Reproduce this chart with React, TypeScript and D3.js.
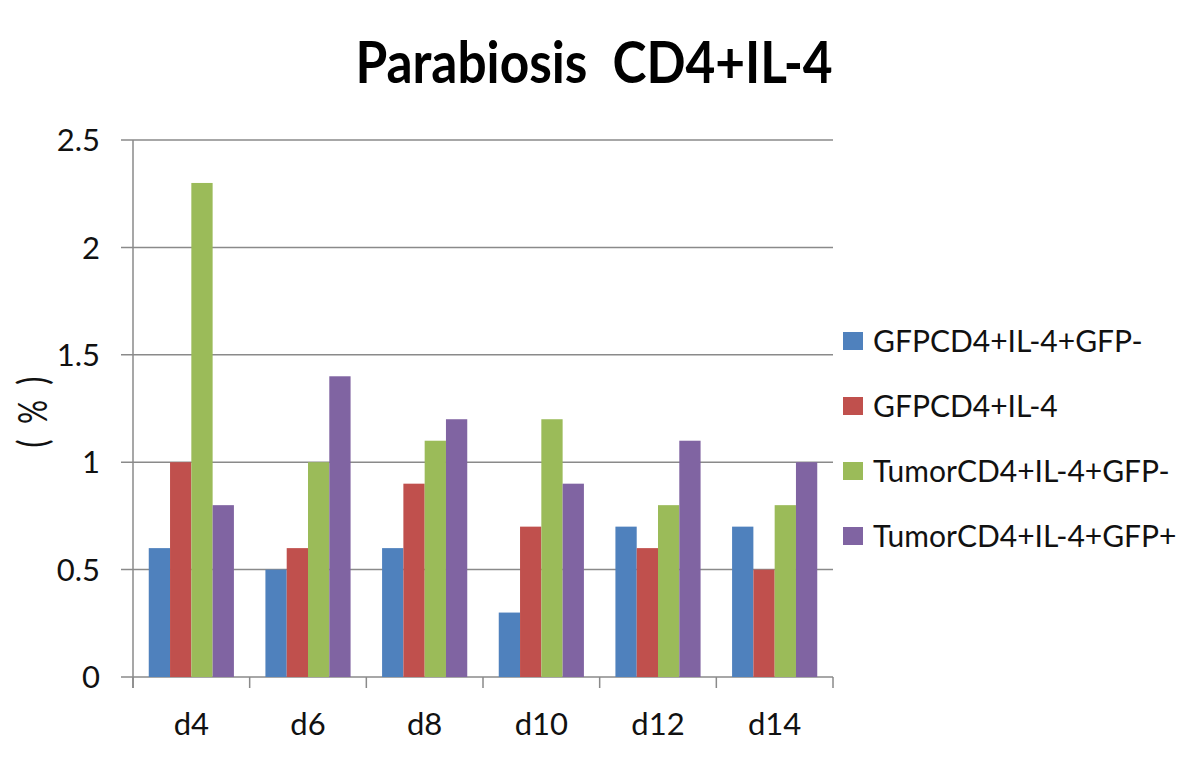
import React, { useEffect } from "react";
import * as d3 from "d3";

const categories = ["d4", "d6", "d8", "d10", "d12", "d14"];
const seriesNames = [
  "GFPCD4+IL-4+GFP-",
  "GFPCD4+IL-4",
  "TumorCD4+IL-4+GFP-",
  "TumorCD4+IL-4+GFP+",
];
const gfpMinus = [0.6, 0.5, 0.6, 0.3, 0.7, 0.7];
const gfpAll = [1.0, 0.6, 0.9, 0.7, 0.6, 0.5];
const tumorMinus = [2.3, 1.0, 1.1, 1.2, 0.8, 0.8];
const tumorPlus = [0.8, 1.4, 1.2, 0.9, 1.1, 1.0];
const yTicks = [0, 0.5, 1, 1.5, 2, 2.5];
const colors = ["#4F81BD", "#C0504D", "#9BBB59", "#8064A2"];

const FONT = "Lato, 'Open Sans', sans-serif";

const margin = { left: 133, right: 367, top: 140, bottom: 89 };
const W = 1200;
const H = 766;

const App: React.FC = () => {
  useEffect(() => {
    document.body.style.margin = "0";
  }, []);

  const values = [gfpMinus, gfpAll, tumorMinus, tumorPlus];
  const plotW = W - margin.left - margin.right;
  const y0 = H - margin.bottom;

  const x0 = d3
    .scaleBand<string>()
    .domain(categories)
    .range([margin.left, margin.left + plotW])
    .paddingInner(0.27)
    .paddingOuter(0.135);
  const x1 = d3
    .scaleBand<string>()
    .domain(seriesNames)
    .range([0, x0.bandwidth()]);
  const y = d3.scaleLinear().domain([0, 2.5]).range([y0, margin.top]);

  const step = plotW / categories.length;
  const catEdges = d3.range(categories.length + 1).map((i) => margin.left + i * step);

  return (
    <svg width={W} height={H} style={{ display: "block", background: "#fff" }}>
      {/* title is a bit taller than wide in the original, so stretch it */}
      <text
        transform="translate(594, 83) scale(0.97, 1.08)"
        textAnchor="middle"
        fontFamily={FONT}
        fontWeight="bold"
        fontSize={53}
        fill="#000"
        style={{ whiteSpace: "pre" }}
      >
        Parabiosis  CD4+IL-4
      </text>

      {yTicks.map((t) => (
        <g key={t}>
          <line
            x1={margin.left - 12}
            x2={margin.left + plotW}
            y1={y(t)}
            y2={y(t)}
            stroke="#8a8a8a"
            strokeWidth={1.5}
          />
          <text
            x={100}
            y={y(t)}
            dy="0.36em"
            textAnchor="end"
            fontFamily={FONT}
            fontSize={31}
            fill="#111"
          >
            {t}
          </text>
        </g>
      ))}

      {values.map((vals, si) =>
        vals.map((v, ci) => (
          <rect
            key={`${si}-${ci}`}
            x={(x0(categories[ci]) as number) + (x1(seriesNames[si]) as number)}
            y={y(v)}
            width={x1.bandwidth()}
            height={y0 - y(v)}
            fill={colors[si]}
          />
        ))
      )}

      <line
        x1={margin.left}
        x2={margin.left}
        y1={margin.top}
        y2={y0 + 11}
        stroke="#8a8a8a"
        strokeWidth={1.5}
      />
      {catEdges.map((e, i) => (
        <line
          key={i}
          x1={e}
          x2={e}
          y1={y0}
          y2={y0 + 11}
          stroke="#8a8a8a"
          strokeWidth={1.5}
        />
      ))}
      {categories.map((c) => (
        <text
          key={c}
          x={(x0(c) as number) + x0.bandwidth() / 2}
          y={735}
          textAnchor="middle"
          fontFamily={FONT}
          fontSize={31}
          fill="#111"
        >
          {c}
        </text>
      ))}

      <text
        transform="translate(47, 412) rotate(-90) scale(1, 1.35)"
        textAnchor="middle"
        fontFamily={FONT}
        fontSize={30}
        fill="#111"
        style={{ whiteSpace: "pre" }}
      >
        (  %  )
      </text>

      {seriesNames.map((s, i) => {
        const cy = 341 + i * 65;
        return (
          <g key={s}>
            <rect x={843} y={cy - 9} width={20} height={18} fill={colors[i]} />
            <text
              x={873}
              y={cy}
              dy="0.36em"
              fontFamily={FONT}
              fontSize={30}
              fill="#111"
            >
              {s}
            </text>
          </g>
        );
      })}
    </svg>
  );
};

export default App;
